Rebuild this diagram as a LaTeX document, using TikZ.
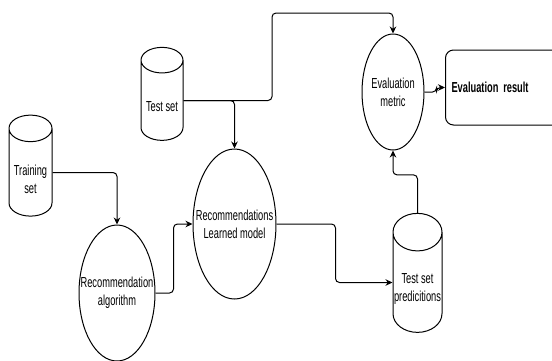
\documentclass[tikz,border=0pt]{standalone}
\usepackage{fontspec}
\setmainfont{Liberation Sans}[FakeStretch=0.64]
\usetikzlibrary{shapes.geometric,arrows.meta}

% text set lower in a node, keeping its box size
\newcommand{\droptext}[2]{\raisebox{-#1}[\height][\depth]{\begin{tabular}{@{}c@{}}#2\end{tabular}}}

\begin{document}
\begin{tikzpicture}[
    x=1pt, y=-1pt,
    every node/.style={font=\fontsize{14.5}{18}\selectfont, align=center, line width=1pt},
    every label/.style={font=\fontsize{14.5}{18}\selectfont, align=center, draw=none},
    store/.style={draw, cylinder, shape border rotate=90, aspect=0.8, inner sep=0pt},
    proc/.style={draw, ellipse, inner sep=0pt},
    result/.style={draw, rounded corners=8pt, anchor=west, minimum height=75pt,
        text width=110pt, align=left, inner sep=6pt, font=\fontsize{14.5}{18}\selectfont\bfseries},
    conn/.style={draw, line width=1pt, rounded corners=4pt, -{Stealth[length=7pt,width=6.5pt]}}
]
\useasboundingbox (0,0) rectangle (552,360);
\clip (0,0) rectangle (552,360);

% data stores
\node[store, minimum width=43pt, minimum height=101pt] (train) at (30.5,172.5)
    {\droptext{8.5pt}{Training\\set}};
\node[store, minimum width=42pt, minimum height=93pt] (test) at (162,100.5)
    {\droptext{7.5pt}{Test set}};
\node[store, minimum width=49pt, minimum height=119pt] (pred) at (417.5,282.5)
    {\droptext{6.5pt}{Test set\\predicitions}};

% processes
\node[proc, minimum width=76pt, minimum height=136pt,
    label=center:Recommendation\\algorithm] (algo) at (117,293) {};
\node[proc, minimum width=83pt, minimum height=150pt,
    label=center:Recommendations\\Learned model] (model) at (234.5,224) {};
\node[proc, minimum width=62pt, minimum height=116pt,
    label=center:Evaluation\\metric] (metric) at (393,92) {};

\node[result] (res) at (445,87.5) {Evaluation result};

\coordinate (topbend) at (272,13);

\draw[conn] (train.east) -| (algo.north);
\draw[conn] (algo.east) -- ++(18,0) |- (model.west);
\draw[conn] (test.east) -| (topbend) -| (metric.north);
\draw[conn] (test.east) -| (model.north);
\draw[conn] (model.east) -- ++(59,0) |- (pred.west);
\draw[conn] (pred.north) -- ++(0,-38) -| (metric.south);
\draw[conn] (metric.east) -- ++(12,0) |- (res.west);

\end{tikzpicture}
\end{document}
